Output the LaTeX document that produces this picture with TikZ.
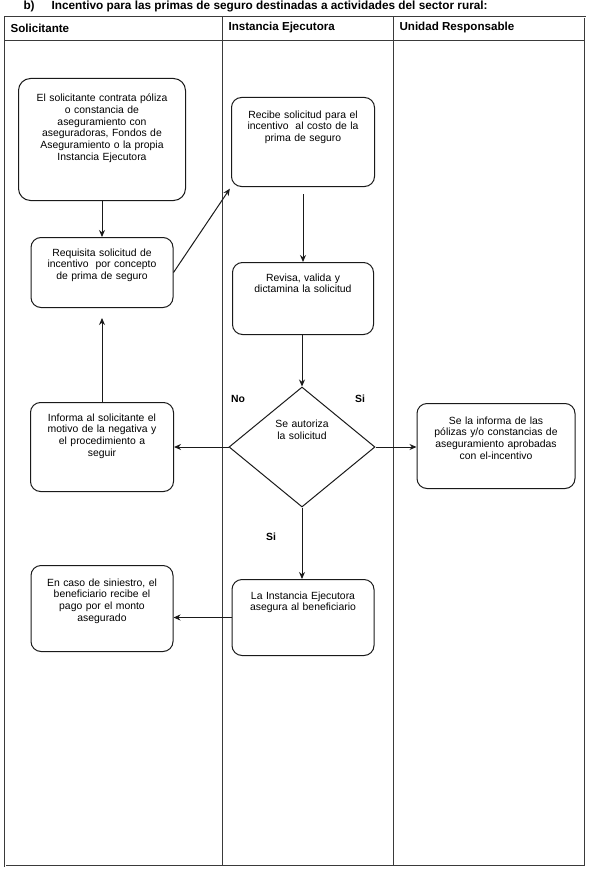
\documentclass[tikz,border=0pt]{standalone}
\usepackage{fontspec}
\setmainfont{Liberation Sans}
\usetikzlibrary{shapes.geometric,arrows.meta,positioning,calc}
\definecolor{linegray}{HTML}{1A1A1A}
\definecolor{framegray}{HTML}{3A3A3A}

\tikzset{
  caja/.style={draw=linegray, line width=1pt, rounded corners=10pt, anchor=north,
    align=center, inner xsep=3pt, inner ysep=3pt, font=\fontsize{10.4}{11.8}\selectfont},
  decision/.style={draw=linegray, line width=1pt, diamond, inner sep=0pt, align=center,
    font=\fontsize{10.4}{11.8}\selectfont},
  flecha/.style={draw=linegray, line width=1pt, -{Stealth[length=7pt,width=6pt]}},
  etiq/.style={font=\bfseries\fontsize{10.4}{12}\selectfont},
  encab/.style={anchor=west, font=\bfseries\fontsize{11.6}{13}\selectfont},
}

\begin{document}
\begin{tikzpicture}[x=1pt,y=-1pt]
\useasboundingbox (0,0) rectangle (589,872);

% Title
\node[anchor=west, font=\bfseries\fontsize{11.8}{13}\selectfont] (titulo) at (20,6)
  {\makebox[28pt][l]{b)}Incentivo para las primas de seguro destinadas a actividades del sector rural:};

% Table
\draw[framegray, line width=0.5pt, double=white, double distance=0.6pt] (5,17) rectangle (585,866);
\draw[framegray, line width=0.8pt] (5,40) -- (585,40);
\draw[framegray, line width=1pt] (222,17) -- (222,866);
\draw[framegray, line width=1pt] (393,17) -- (393,866);
\node[encab] (solicitante) at (7,28) {Solicitante};
\node[encab] (instancia) at (225,28) {Instancia Ejecutora};
\node[encab] (unidad) at (396,28) {Unidad Responsable};

% Solicitante
\node[caja, rounded corners=12pt, text width=161pt, text height=20pt, text depth=96pt] (contrata) at (102,78)
  {El solicitante contrata póliza\\o constancia de\\aseguramiento con\\aseguradoras, Fondos de\\Aseguramiento o la propia\\Instancia Ejecutora};
\node[caja, text width=136pt, text height=15.5pt, text depth=48.5pt] (requisita) at (102,237)
  {Requisita solicitud de\\incentivo\ \ por concepto\\de prima de seguro};
\node[caja, text width=137pt, text height=15.5pt, text depth=67.5pt] (informa) at (102,402)
  {Informa al solicitante el\\motivo de la negativa y\\el procedimiento a\\seguir};
\node[caja, text width=136pt, text height=17.5pt, text depth=62.5pt] (siniestro) at (102,565)
  {En caso de siniestro, el\\beneficiario recibe el\\pago por el monto\\asegurado};

% Instancia Ejecutora
\node[caja, text width=137pt, text height=17.5pt, text depth=65.5pt] (recibe) at (303,97)
  {Recibe solicitud para el\\incentivo\ \ al costo de la\\prima de seguro};
\node[caja, text width=135pt, text height=15.5pt, text depth=50.5pt] (revisa) at (303,262)
  {Revisa, valida y\\dictamina la solicitud};
\node[decision, minimum width=146pt, minimum height=120pt, text width=58pt, text height=9pt, text depth=48pt] (autoriza) at (302,447)
  {Se autoriza\\la solicitud};
\node[caja, text width=136pt, text height=16.5pt, text depth=53.5pt] (asegura) at (303,579)
  {La Instancia Ejecutora\\asegura al beneficiario};

% Unidad Responsable
\node[caja, text width=152pt, text height=17.5pt, text depth=61.5pt] (polizas) at (496,403)
  {Se la informa de las\\pólizas y/o constancias de\\aseguramiento aprobadas\\con el-incentivo};

% Labels
\node[etiq] (etiqno) at (238,399) {No};
\node[etiq] (etiqsi) at (360,399) {Si};
\node[etiq] (etiqsib) at (271,537) {Si};

% Connectors
\draw[flecha] (contrata.south) -- (requisita.north);
\draw[flecha, shorten >=2pt] (requisita.east) -- (recibe.south west);
\draw[flecha, shorten <=7pt] (recibe.south) -- (revisa.north);
\draw[flecha] (revisa.south -| autoriza.north) -- (autoriza.north);
\draw[flecha] (autoriza.west) -- (informa.east |- autoriza.west);
\draw[flecha] (autoriza.east) -- (polizas.west |- autoriza.east);
\draw[flecha] (autoriza.south) -- (asegura.north -| autoriza.south);
\draw[flecha] (asegura.west) -- (siniestro.east |- asegura.west);
\draw[flecha, shorten >=10pt] (informa.north) -- (requisita.south);
\end{tikzpicture}
\end{document}
